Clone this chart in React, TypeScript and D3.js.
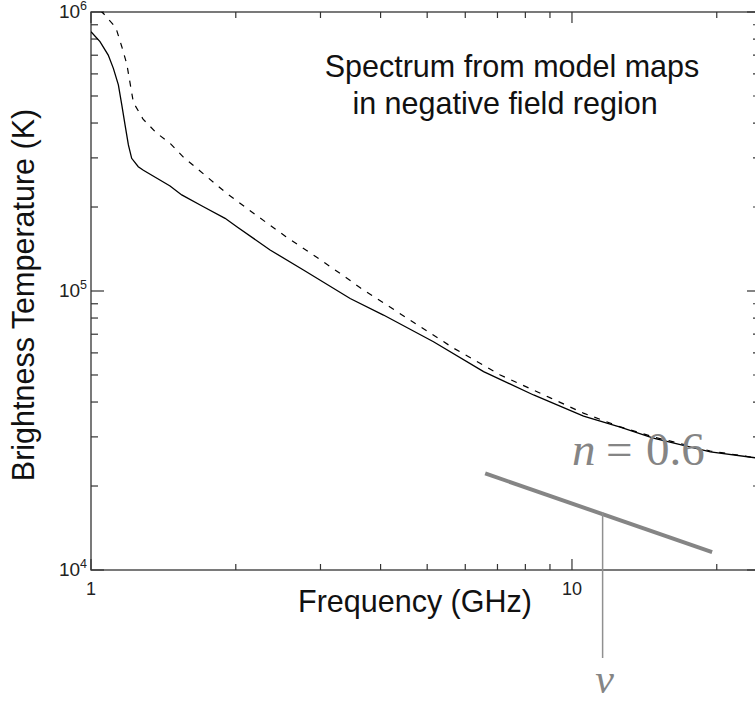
import React from 'react';
import * as d3 from 'd3';

const W = 755;
const H = 703;
const M = { left: 91, right: 760, top: 12, bottom: 570 };

// Solid curve (model map spectrum)
const solidFreq = [1.0, 1.044, 1.086, 1.113, 1.14, 1.159, 1.177, 1.196, 1.215, 1.254, 1.285, 1.46, 1.544, 1.713, 1.9, 2.01, 2.357, 2.765, 3.458, 4.056, 5.153, 6.55, 8.32, 10.57, 12.6, 14.76, 19.4, 24.65];
const solidTemp = [8.5e5, 7.83e5, 7.01e5, 6.28e5, 5.48e5, 4.64e5, 3.94e5, 3.34e5, 2.99e5, 2.79e5, 2.71e5, 2.38e5, 2.21e5, 2.005e5, 1.822e5, 1.70e5, 1.403e5, 1.189e5, 9.4e4, 8.2e4, 6.58e4, 5.14e4, 4.24e4, 3.56e4, 3.25e4, 2.97e4, 2.65e4, 2.51e4];

// Dashed curve
const dashFreq = [1.0, 1.065, 1.126, 1.159, 1.187, 1.205, 1.225, 1.283, 1.365, 1.466, 1.556, 1.665, 1.908, 2.202, 2.543, 2.936, 3.389, 3.641, 4.537, 5.664, 7.094, 9.015, 10.56, 12.6, 14.76, 19.4, 24.65];
const dashTemp = [1.09e6, 9.82e5, 8.8e5, 7.51e5, 6.51e5, 5.59e5, 4.74e5, 4.13e5, 3.7e5, 3.36e5, 3.02e5, 2.74e5, 2.25e5, 1.873e5, 1.565e5, 1.327e5, 1.118e5, 1.023e5, 8.0e4, 6.25e4, 5.0e4, 4.14e4, 3.65e4, 3.26e4, 3.0e4, 2.67e4, 2.51e4];

// Axis ticks
const xMajorTicks = [1, 10];
const xMajorLabels = ['1', '10'];
const xMinorTicks = [2, 3, 4, 5, 6, 7, 8, 9, 20];
const yMajorTicks = [1e4, 1e5, 1e6];
const yMajorExp = ['4', '5', '6'];
const yMinorTicks = [2e4, 3e4, 4e4, 5e4, 6e4, 7e4, 8e4, 9e4, 2e5, 3e5, 4e5, 5e5, 6e5, 7e5, 8e5, 9e5];

// Power-law annotation (n = 0.6)
const slopeFreq = [6.6, 19.56];
const slopeTemp = [2.22e4, 1.158e4];
const markerFreq = 11.58;

const titleLines = ['Spectrum from model maps', 'in negative field region'];

const SANS = '"Liberation Sans", Arial, Helvetica, sans-serif';
const SERIF = '"Liberation Serif", "Times New Roman", serif';

export default function App() {
  const x = d3.scaleLog().domain([1, 24.6]).range([M.left, M.right]);
  const y = d3.scaleLog().domain([1e4, 1e6]).range([M.bottom, M.top]);

  const line = d3
    .line<[number, number]>()
    .x((d) => x(d[0]))
    .y((d) => y(d[1]));

  const solidPath = line(solidFreq.map((f, i) => [f, solidTemp[i]]));
  const dashPath = line(dashFreq.map((f, i) => [f, dashTemp[i]]));

  const slopeAt = (f: number) => {
    const t = (Math.log10(f) - Math.log10(slopeFreq[0])) / (Math.log10(slopeFreq[1]) - Math.log10(slopeFreq[0]));
    return Math.pow(10, Math.log10(slopeTemp[0]) + t * (Math.log10(slopeTemp[1]) - Math.log10(slopeTemp[0])));
  };

  const axisColor = '#333';
  const majLen = 13;
  const minLen = 7;
  const xMajLen = 11;
  const xMinLen = 6;
  const fs = 30.5;

  return (
    <svg
      width={W}
      height={H}
      style={{ position: 'absolute', left: 0, top: 0, background: '#fff' }}
      xmlns="http://www.w3.org/2000/svg"
    >
      <defs>
        <clipPath id="plotClip">
          <rect x={M.left} y={M.top} width={M.right - M.left} height={M.bottom - M.top} />
        </clipPath>
      </defs>
      <rect x={0} y={0} width={W} height={H} fill="#fff" />

      {/* frame */}
      <rect
        x={M.left}
        y={M.top}
        width={M.right - M.left}
        height={M.bottom - M.top}
        fill="none"
        stroke={axisColor}
        strokeWidth={1.3}
      />

      {/* x ticks bottom & top */}
      {xMajorTicks.map((t) => (
        <g key={'xm' + t}>
          <line x1={x(t)} x2={x(t)} y1={M.bottom} y2={M.bottom - xMajLen} stroke={axisColor} strokeWidth={1.2} />
          <line x1={x(t)} x2={x(t)} y1={M.top} y2={M.top + xMajLen} stroke={axisColor} strokeWidth={1.2} />
        </g>
      ))}
      {xMinorTicks.map((t) => (
        <g key={'xn' + t}>
          <line x1={x(t)} x2={x(t)} y1={M.bottom} y2={M.bottom - xMinLen} stroke={axisColor} strokeWidth={1.2} />
          <line x1={x(t)} x2={x(t)} y1={M.top} y2={M.top + xMinLen} stroke={axisColor} strokeWidth={1.2} />
        </g>
      ))}
      {xMajorTicks.map((t, i) => (
        <text
          key={'xl' + t}
          x={x(t)}
          y={595}
          textAnchor="middle"
          fontFamily={SANS}
          fontSize={18}
          fill="#222"
        >
          {xMajorLabels[i]}
        </text>
      ))}

      {/* y ticks left & right */}
      {yMajorTicks.map((t) => (
        <g key={'ym' + t}>
          <line x1={M.left} x2={M.left + majLen} y1={y(t)} y2={y(t)} stroke={axisColor} strokeWidth={1.2} />
          <line x1={M.right} x2={M.right - majLen} y1={y(t)} y2={y(t)} stroke={axisColor} strokeWidth={1.2} />
        </g>
      ))}
      {yMinorTicks.map((t) => (
        <g key={'yn' + t}>
          <line x1={M.left} x2={M.left + minLen} y1={y(t)} y2={y(t)} stroke={axisColor} strokeWidth={1.2} />
          <line x1={M.right} x2={M.right - minLen} y1={y(t)} y2={y(t)} stroke={axisColor} strokeWidth={1.2} />
        </g>
      ))}
      {yMajorTicks.map((t, i) => (
        <text
          key={'yl' + t}
          x={87}
          y={y(t) + 6}
          textAnchor="end"
          fontFamily={SANS}
          fontSize={19}
          fill="#222"
        >
          10
          <tspan dy={-8} fontSize={12.5}>
            {yMajorExp[i]}
          </tspan>
        </text>
      ))}

      {/* curves */}
      <g clipPath="url(#plotClip)">
        <path d={dashPath || ''} fill="none" stroke="#000" strokeWidth={1.2} strokeDasharray="6,7" />
        <path d={solidPath || ''} fill="none" stroke="#000" strokeWidth={1.3} />
      </g>

      {/* axis titles */}
      <text x={415} y={612} textAnchor="middle" fontFamily={SANS} fontSize={fs} fill="#111">
        Frequency (GHz)
      </text>
      <text
        transform={`translate(34, 295) rotate(-90)`}
        textAnchor="middle"
        fontFamily={SANS}
        fontSize={fs}
        fill="#111"
      >
        Brightness Temperature (K)
      </text>

      {/* in-plot title */}
      <text x={512} y={77} textAnchor="middle" fontFamily={SANS} fontSize={fs} fill="#111">
        {titleLines[0]}
      </text>
      <text x={505} y={114} textAnchor="middle" fontFamily={SANS} fontSize={fs} fill="#111">
        {titleLines[1]}
      </text>

      {/* power-law annotation */}
      <line
        x1={x(slopeFreq[0])}
        y1={y(slopeTemp[0])}
        x2={x(slopeFreq[1])}
        y2={y(slopeTemp[1])}
        stroke="#858585"
        strokeWidth={4}
      />
      <line
        x1={x(markerFreq)}
        x2={x(markerFreq)}
        y1={y(slopeAt(markerFreq)) - 2}
        y2={658}
        stroke="#909090"
        strokeWidth={1.5}
      />
      <text x={572} y={465} fontFamily={SERIF} fontSize={47} fill="#858585" fontStyle="italic">
        n
      </text>
      <text x={606} y={465} fontFamily={SERIF} fontSize={47} fill="#858585">
        =
      </text>
      <text x={646} y={465} fontFamily={SERIF} fontSize={47} fill="#858585">
        0.6
      </text>
      <text
        x={x(markerFreq) + 2}
        y={693}
        textAnchor="middle"
        fontFamily={SERIF}
        fontSize={42}
        fill="#858585"
        fontStyle="italic"
      >
        ν
      </text>
    </svg>
  );
}
